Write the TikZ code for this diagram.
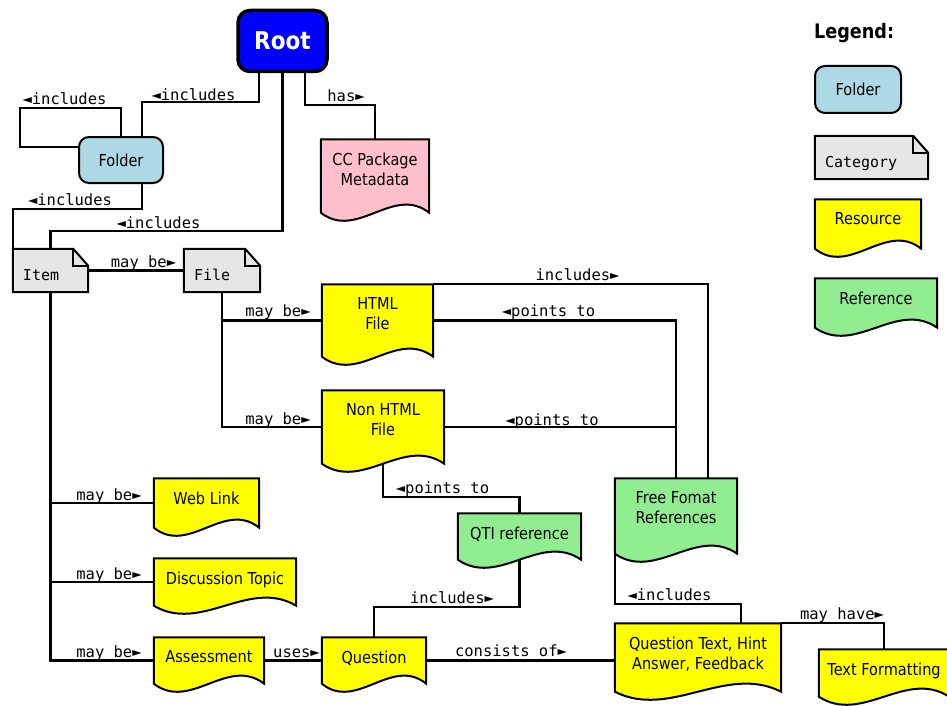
\documentclass[tikz,border=0pt]{standalone}
\usepackage{fontspec}
\setmainfont{DejaVu Sans}[FakeStretch=0.88]
\newfontfamily\monofont{DejaVu Sans Mono}
\usetikzlibrary{calc,backgrounds}
\definecolor{rootblue}{HTML}{0000FF}
\definecolor{folderblue}{HTML}{ADD8E6}
\definecolor{notegrey}{HTML}{E6E6E6}
\definecolor{respink}{HTML}{FFC0CB}
\definecolor{resyellow}{HTML}{FFFF00}
\definecolor{refgreen}{HTML}{90EE90}
\tikzset{
  shapeline/.style={draw=black, line width=2pt, line join=miter},
  conn/.style={draw=black, line width=2.1pt},
  sz/.style 2 args={minimum width=#1pt, minimum height=#2pt},
  docbox/.style={rectangle, inner sep=0pt},
  doctext/.style={anchor=north, yshift=-13pt, align=center, inner sep=0pt,
    font=\fontsize{16.5}{20}\selectfont},
  notebox/.style={rectangle, inner sep=0pt},
  notetext/.style={anchor=west, xshift=10pt, yshift=-5.5pt, inner sep=0pt,
    text height=11pt, text depth=3pt, font=\monofont\fontsize{15}{18}\selectfont},
  roundbox/.style={rectangle, rounded corners=10pt, draw=black, line width=2pt,
    fill=folderblue, inner sep=0pt, font=\fontsize{16.5}{20}\selectfont},
  rootbox/.style={rectangle, rounded corners=12pt, draw=black, line width=3.5pt,
    fill=rootblue, text=white, inner sep=0pt,
    font=\bfseries\fontsize{24.5}{28}\selectfont},
  lbl/.style={anchor=base, inner sep=0pt, font=\monofont\fontsize{15.5}{18}\selectfont},
}
\newcommand\docshape[2]{%
  \begin{pgfonlayer}{background}
  \path[shapeline, fill=#2] (#1.north west) -- (#1.north east) -- (#1.south east)
    .. controls ($(#1.south east)!0.333!(#1.south west)+(0,-28)$)
    and ($(#1.south east)!0.667!(#1.south west)+(0,28)$) .. (#1.south west) -- cycle;
  \end{pgfonlayer}}
\newcommand\noteshape[1]{%
  \begin{pgfonlayer}{background}
  \path[shapeline, fill=notegrey] (#1.north west) -- ($(#1.north east)+(-15,0)$)
    -- ($(#1.north east)+(0,17)$) -- (#1.south east) -- (#1.south west) -- cycle;
  \draw[shapeline] ($(#1.north east)+(-15,0)$) -- ($(#1.north east)+(-15,17)$)
    -- ($(#1.north east)+(0,17)$);
  \end{pgfonlayer}}
\begin{document}
\begin{tikzpicture}[x=1pt,y=-1pt]
\useasboundingbox (0,0) rectangle (947,706);

% main nodes
\node[rootbox, sz={89}{61}] (root) at (282.5,41) {Root};
\node[roundbox, sz={84}{46}] (folder) at (121,160) {Folder};
\node[docbox, sz={108}{73}, label={[doctext]north:{CC Package\\Metadata}}] (cc) at (375,176) {};
\docshape{cc}{respink}
\node[notebox, sz={75}{43}, label={[notetext]west:Item}] (item) at (50.5,270.5) {};
\noteshape{item}
\node[notebox, sz={76}{43}, label={[notetext]west:File}] (file) at (222,270.5) {};
\noteshape{file}
\node[docbox, sz={111}{72}, label={[doctext]north:{HTML\\File}}] (html) at (377.5,320.5) {};
\docshape{html}{resyellow}
\node[docbox, sz={122}{73}, label={[doctext]north:{Non HTML\\File}}] (nonhtml) at (383,427) {};
\docshape{nonhtml}{resyellow}
\node[docbox, sz={105}{49}, label={[doctext]north:{Web Link}}] (weblink) at (206.5,503) {};
\docshape{weblink}{resyellow}
\node[docbox, sz={142}{47}, label={[doctext]north:{Discussion Topic}}] (discussion) at (225,582) {};
\docshape{discussion}{resyellow}
\node[docbox, sz={110}{46}, label={[doctext]north:{Assessment}}] (assessment) at (209,660.5) {};
\docshape{assessment}{resyellow}
\node[docbox, sz={104}{46}, label={[doctext]north:{Question}}] (question) at (374,660.5) {};
\docshape{question}{resyellow}
\node[docbox, sz={123}{46}, label={[doctext]north:{QTI reference}}] (qti) at (519.5,536.5) {};
\docshape{qti}{refgreen}
\node[docbox, sz={122}{75}, label={[doctext]north:{Free Fomat\\References}}] (ff) at (676,516) {};
\docshape{ff}{refgreen}
\node[docbox, sz={166}{68}, label={[doctext]north:{Question Text, Hint\\Answer, Feedback}}] (qt) at (698,657.5) {};
\docshape{qt}{resyellow}
\node[docbox, sz={130}{47}, label={[doctext]north:{Text Formatting}}] (tf) at (884,673) {};
\docshape{tf}{resyellow}

% legend
\node[anchor=base west, inner sep=0pt, font=\bfseries\fontsize{20}{24}\selectfont] (legend) at (814,39) {Legend:};
\node[roundbox, sz={86}{47}] (lfolder) at (858,89.5) {Folder};
\node[notebox, sz={113}{43}, label={[notetext]west:Category}] (lcat) at (871.5,157.5) {};
\noteshape{lcat}
\node[docbox, sz={106}{49}, label={[doctext]north:{Resource}}] (lres) at (868,224) {};
\docshape{lres}{resyellow}
\node[docbox, sz={122}{49}, label={[doctext]north:{Reference}}] (lref) at (876,303) {};
\docshape{lref}{refgreen}

% connectors
\draw[conn] ($(root.south)+(-23.5,0)$) |- ($(folder.north)+(21,-34)$) -- ($(folder.north)+(21,0)$);
\draw[conn] (folder.north) |- ($(folder.west)+(-58,-52)$) |- ($(folder.west)+(0,-13)$);
\draw[conn] ($(folder.south)+(21,0)$) |- ($(item.north west)+(0,-40)$) -- (item.north west);
\draw[conn] (root.south) |- ($(item.north)+(0,-18)$) -- (item.north);
\draw[conn] ($(root.south)+(22.5,0)$) |- ($(cc.north)+(0,-34)$) -- (cc.north);
\draw[conn] (item.east) -- (file.west);
\draw[conn] (file.south) |- (html.west);
\draw[conn] (file.south) |- (nonhtml.west);
\draw[conn] (item.south) |- (weblink.west);
\draw[conn] (item.south) |- (discussion.west);
\draw[conn] (item.south) |- (assessment.west);
\draw[conn] (assessment.east) -- (question.west);
\draw[conn] (question.east) -- (question.east -| qt.west);
\draw[conn] (question.north) |- ($(qti.south)+(0,47)$) -- (qti.south);
\draw[conn] (nonhtml.south) |- ($(qti.north)+(0,-16)$) -- (qti.north);
\draw[conn] (html.east) -| (ff.north);
\draw[conn] (nonhtml.east) -- (nonhtml.east -| ff.north);
\draw[conn] (html.north east) -| ($(ff.north)+(32,0)$);
\draw[conn] ($(qt.north)+(43,0)$) |- ($(ff.south west)+(0,50.5)$) -- (ff.south west);
\draw[conn] (qt.north east) -| (tf.north);

% connector labels
\node[lbl] (t1) at (193.5,101) {◄includes};
\node[lbl] (t2) at (64.5,105) {◄includes};
\node[lbl] (t3) at (70,205.5) {◄includes};
\node[lbl] (t4) at (158.5,228) {◄includes};
\node[lbl] (t5) at (346,102) {has►};
\node[lbl] (t6) at (143.5,267) {may be►};
\node[lbl] (t7) at (278,316.5) {may be►};
\node[lbl] (t8) at (278,424) {may be►};
\node[lbl] (t9) at (109,500) {may be►};
\node[lbl] (t10) at (109,579) {may be►};
\node[lbl] (t11) at (109,657.5) {may be►};
\node[lbl] (t12) at (296.5,657.5) {uses►};
\node[lbl] (t13) at (511,656.5) {consists of►};
\node[lbl] (t14) at (452,603) {includes►};
\node[lbl] (t15) at (442.5,493) {◄points to};
\node[lbl] (t16) at (548.5,316.5) {◄points to};
\node[lbl] (t17) at (552,425) {◄points to};
\node[lbl] (t18) at (577.5,280) {includes►};
\node[lbl] (t19) at (669.5,600) {◄includes};
\node[lbl] (t20) at (842,619) {may have►};
\end{tikzpicture}
\end{document}
